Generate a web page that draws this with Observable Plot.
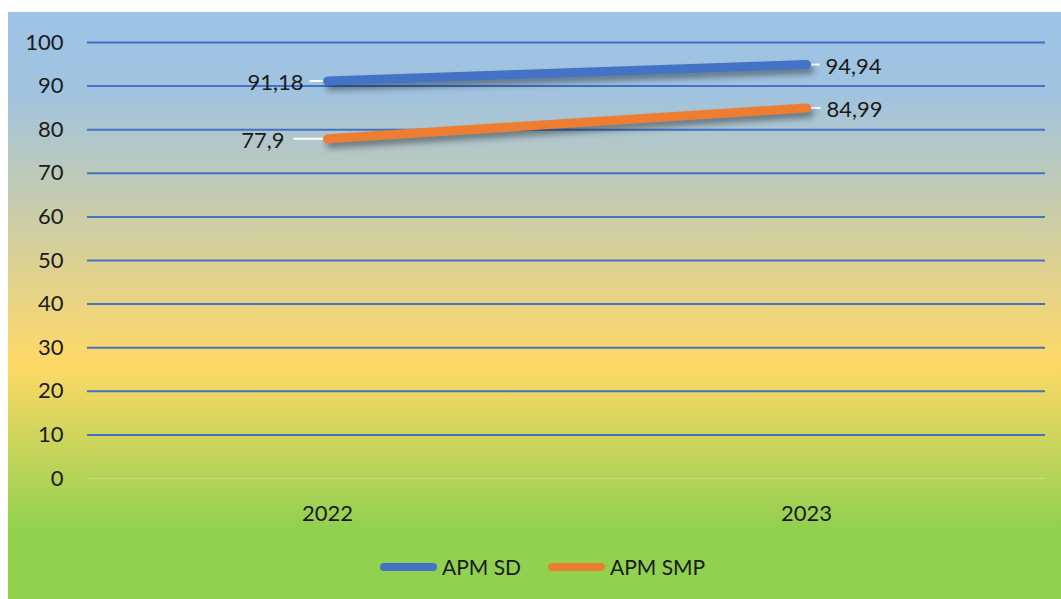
<!DOCTYPE html>
<html>
<head>
<meta charset="utf-8">
<script src="https://cdn.jsdelivr.net/npm/d3@7"></script>
<script src="https://cdn.jsdelivr.net/npm/@observablehq/plot@0.6"></script>
<style>
  html, body { margin: 0; padding: 0; background: #ffffff; }
  #chart {
    position: absolute; left: 8px; top: 12px; width: 1053px; height: 587px;
    background: linear-gradient(to bottom, #9dc3e6 0%, #a1c3df 14%, #ffd966 60%, #92d050 88%, #92d050 100%);
    font-family: Lato, "Open Sans", sans-serif; color: #1a1a1a;
  }
  #plot { position: absolute; left: 0; top: 0; }
  #legend { position: absolute; left: 0; top: 541px; width: 1053px; height: 28px; font-size: 21px; color: #1a1a1a; }
  .swatch { position: absolute; top: 10px; width: 57px; height: 8px; border-radius: 4px; }
  .lbl { position: absolute; top: 0; line-height: 28px; white-space: nowrap; }
  g[aria-label="line"] { filter: drop-shadow(3px 5px 3px rgba(0,0,0,0.4)); }
</style>
</head>
<body>
<div id="chart">
  <div id="plot"></div>
  <div id="legend"></div>
</div>
<script>
const years = ["2022", "2023"];
const apmSD = [91.18, 94.94];
const apmSMP = [77.9, 84.99];
const seriesNames = ["APM SD", "APM SMP"];
const seriesColors = ["#4472c4", "#ed7d31"];
const yTicks = [0, 10, 20, 30, 40, 50, 60, 70, 80, 90, 100];

const data = years.flatMap((yr, i) => [
  {year: yr, value: apmSD[i], series: seriesNames[0]},
  {year: yr, value: apmSMP[i], series: seriesNames[1]}
]);
const fmt = v => String(v).replace(".", ",");
const pick = (yr, s) => data.filter(d => d.year === yr && d.series === s);

// leader-line symbol: horizontal segment from a to b pixels relative to the point
const leader = (a, b) => ({draw(ctx) { ctx.moveTo(a, 0); ctx.lineTo(b, 0); }});

const plot = Plot.plot({
  width: 1053,
  height: 520,
  marginLeft: 79,
  marginRight: 16,
  marginTop: 30,
  marginBottom: 54,
  style: {background: "transparent", fontFamily: "Lato, 'Open Sans', sans-serif", fontSize: "22px", color: "#1a1a1a", overflow: "visible"},
  x: {type: "point", domain: years, padding: 0.5, label: null, tickSize: 0, tickPadding: 27},
  y: {domain: [0, 100], ticks: yTicks, label: null, tickSize: 0, tickPadding: 24},
  color: {domain: seriesNames, range: seriesColors},
  marks: [
    Plot.ruleY(yTicks.filter(t => t > 0), {stroke: "#4472c4", strokeWidth: 2}),
    Plot.ruleY([0], {stroke: "#d8dc9a", strokeWidth: 1, strokeOpacity: 0.6}),
    Plot.dot(pick("2022", "APM SD"), {x: "year", y: "value", symbol: leader(-18, -2), fill: "none", stroke: "white", strokeWidth: 2}),
    Plot.dot(pick("2022", "APM SMP"), {x: "year", y: "value", symbol: leader(-34, -2), fill: "none", stroke: "white", strokeWidth: 2}),
    Plot.dot(pick("2023", "APM SD"), {x: "year", y: "value", symbol: leader(1, 13), fill: "none", stroke: "white", strokeWidth: 2}),
    Plot.dot(pick("2023", "APM SMP"), {x: "year", y: "value", symbol: leader(1, 14), fill: "none", stroke: "white", strokeWidth: 2}),
    Plot.line(data, {x: "year", y: "value", z: "series", stroke: "series", strokeWidth: 9}),
    Plot.text(pick("2022", "APM SD"), {x: "year", y: "value", text: d => fmt(d.value), textAnchor: "end", dx: -24, dy: 2, fontSize: 22, fill: "#1a1a1a"}),
    Plot.text(pick("2022", "APM SMP"), {x: "year", y: "value", text: d => fmt(d.value), textAnchor: "end", dx: -43, dy: 2, fontSize: 22, fill: "#1a1a1a"}),
    Plot.text(pick("2023", "APM SD"), {x: "year", y: "value", text: d => fmt(d.value), textAnchor: "start", dx: 19, dy: 2, fontSize: 22, fill: "#1a1a1a"}),
    Plot.text(pick("2023", "APM SMP"), {x: "year", y: "value", text: d => fmt(d.value), textAnchor: "start", dx: 20, dy: 2, fontSize: 22, fill: "#1a1a1a"})
  ]
});
document.getElementById("plot").appendChild(plot);

// legend entries: swatch left edge and label left edge within the chart frame
const legendSwatchX = [372, 540];
const legendLabelX = [434, 602];
const legend = document.getElementById("legend");
seriesNames.forEach((name, i) => {
  const sw = document.createElement("span");
  sw.className = "swatch";
  sw.style.left = legendSwatchX[i] + "px";
  sw.style.background = seriesColors[i];
  const label = document.createElement("span");
  label.className = "lbl";
  label.style.left = legendLabelX[i] + "px";
  label.textContent = name;
  legend.appendChild(sw);
  legend.appendChild(label);
});
</script>
</body>
</html>
